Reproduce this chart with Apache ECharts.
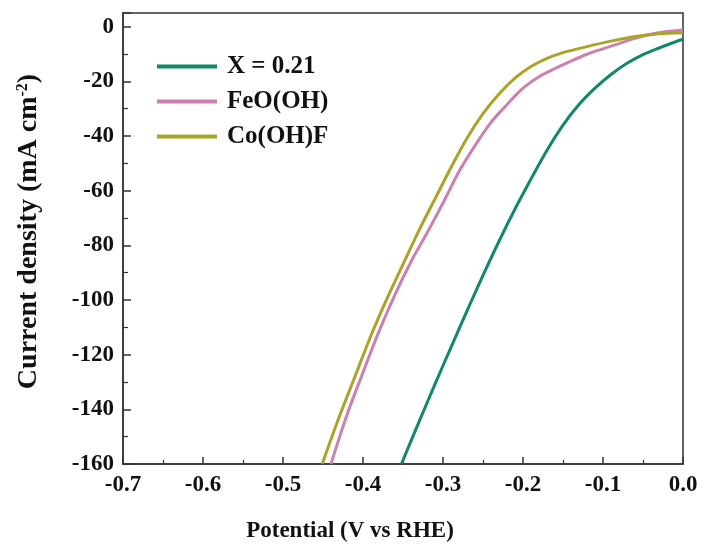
<!DOCTYPE html>
<html>
<head>
<meta charset="utf-8">
<script src="https://cdn.jsdelivr.net/npm/echarts@6/dist/echarts.min.js"></script>
<style>html,body{margin:0;padding:0;background:#fff}#c{width:704px;height:548px}</style>
</head>
<body>
<div id="c"></div>
<script>
const seriesNames = ['X = 0.21', 'FeO(OH)', 'Co(OH)F'];
const colors = ['#13876a', '#cc80b0', '#aaa32a'];

const potentialX = [-0.352, -0.33, -0.31, -0.29, -0.27, -0.25, -0.23, -0.21, -0.19, -0.17, -0.15, -0.13, -0.11, -0.09, -0.07, -0.05, -0.03, -0.01, 0];
const currentX = [-160, -144.6, -130.8, -117.3, -104, -91, -78.5, -66.7, -55.7, -45.2, -36, -28.5, -22.5, -17.5, -13.4, -10.2, -7.8, -5.6, -4.6];

const potentialFe = [-0.44, -0.42, -0.4, -0.38, -0.36, -0.34, -0.32, -0.3, -0.28, -0.26, -0.24, -0.22, -0.2, -0.18, -0.16, -0.14, -0.12, -0.1, -0.08, -0.06, -0.04, -0.02, 0];
const currentFe = [-160, -142, -126.5, -111.5, -98, -86, -75.5, -64.5, -53, -43.5, -35, -28.5, -22.5, -18.3, -15.3, -12.6, -10.1, -8.1, -6.2, -4.3, -2.8, -1.8, -1.2];

const potentialCo = [-0.451, -0.43, -0.41, -0.39, -0.37, -0.35, -0.33, -0.31, -0.29, -0.27, -0.25, -0.23, -0.21, -0.19, -0.17, -0.15, -0.12, -0.09, -0.06, -0.03, 0];
const currentCo = [-160, -143, -128, -113, -99.5, -87, -74.5, -63, -51.5, -40.8, -31.8, -24.6, -18.8, -14.6, -11.6, -9.5, -7.3, -5.3, -3.6, -2.6, -2.2];

const xTicks = { min: -0.7, max: 0, interval: 0.1 };
const yTicks = { min: -160, max: 5, interval: 20 };

function pairs(xs, ys) { return xs.map((x, i) => [x, ys[i]]); }
const seriesData = [pairs(potentialX, currentX), pairs(potentialFe, currentFe), pairs(potentialCo, currentCo)];

const font = "'Liberation Serif', 'Times New Roman', serif";
const chart = echarts.init(document.getElementById('c'));
chart.setOption({
  animation: false,
  backgroundColor: '#fff',
  grid: { left: 123, right: 21, top: 13, bottom: 84, show: true, borderColor: '#333', borderWidth: 1.5, backgroundColor: 'transparent' },
  legend: {
    orient: 'vertical', left: 152, top: 49, itemWidth: 60, itemHeight: 4, itemGap: 10, icon: 'rect',
    textStyle: { fontFamily: font, fontWeight: 'bold', fontSize: 25, color: '#111', padding: [0, 0, 0, 5] },
    data: seriesNames
  },
  xAxis: {
    type: 'value', min: xTicks.min, max: xTicks.max, interval: xTicks.interval,
    name: 'Potential (V vs RHE)', nameLocation: 'middle', nameGap: 56,
    nameTextStyle: { fontFamily: font, fontWeight: 'bold', fontSize: 23, color: '#111', padding: [0, 106, 0, 0] },
    axisLine: { onZero: false, lineStyle: { color: '#333', width: 1.5 } },
    axisTick: { inside: true, length: 7, lineStyle: { color: '#333', width: 1.5 } },
    minorTick: { show: true, splitNumber: 2, length: 4, lineStyle: { color: '#333', width: 1.2 } },
    splitLine: { show: false },
    axisLabel: { fontFamily: font, fontWeight: 'bold', fontSize: 23, color: '#111', margin: 10, formatter: v => v.toFixed(1) }
  },
  yAxis: {
    type: 'value', min: yTicks.min, max: yTicks.max, interval: yTicks.interval,
    name: '{a|Current density (mA cm}{s|-2}{a|)}', nameLocation: 'middle', nameGap: 80,
    nameTextStyle: { padding: [0, 0, 0, 14], rich: {
      a: { fontFamily: font, fontWeight: 'bold', fontSize: 28, color: '#111' },
      s: { fontFamily: font, fontWeight: 'bold', fontSize: 16, color: '#111', verticalAlign: 'top', padding: [0, 0, 10, 0] }
    } },
    axisLine: { onZero: false, lineStyle: { color: '#333', width: 1.5 } },
    axisTick: { inside: true, length: 8, lineStyle: { color: '#333', width: 1.5 } },
    minorTick: { show: true, splitNumber: 2, length: 5, lineStyle: { color: '#333', width: 1.2 } },
    splitLine: { show: false },
    axisLabel: { fontFamily: font, fontWeight: 'bold', fontSize: 23, color: '#111', margin: 9,
      formatter: v => (v > 0 ? '' : String(v)) }
  },
  series: seriesNames.map((n, i) => ({
    name: n, type: 'line', data: seriesData[i], showSymbol: false, smooth: 0.3, clip: true,
    lineStyle: { color: colors[i], width: 3 }, itemStyle: { color: colors[i] }
  }))
});
</script>
</body>
</html>
